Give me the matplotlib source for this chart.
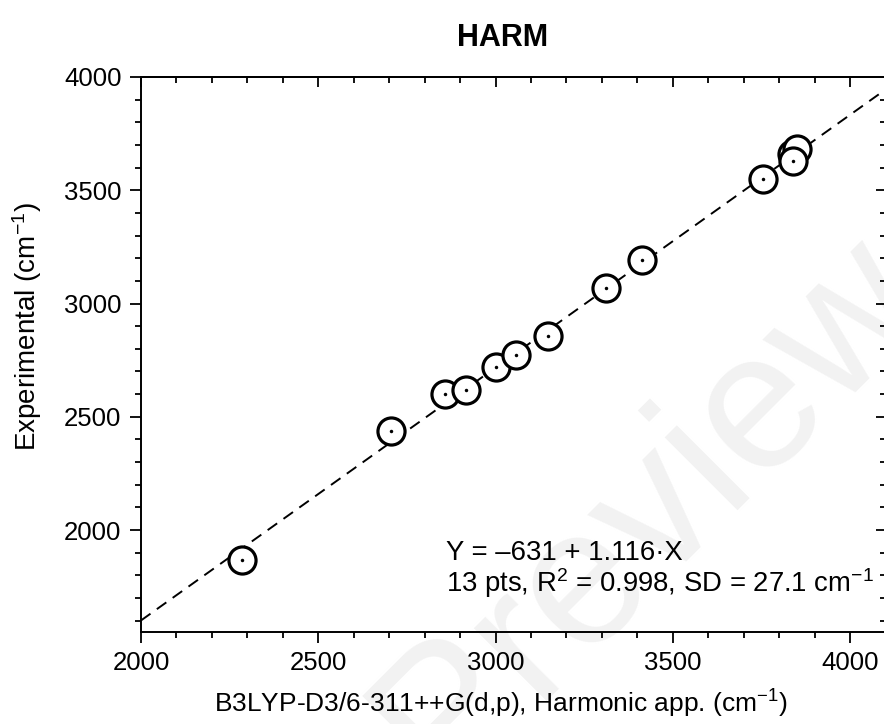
import numpy as np
import matplotlib
matplotlib.use('Agg')
import matplotlib.pyplot as plt
from matplotlib.ticker import MultipleLocator

plt.rcParams['font.family'] = ['Liberation Sans', 'DejaVu Sans']
plt.rcParams['mathtext.fontset'] = 'custom'
plt.rcParams['mathtext.rm'] = 'Liberation Sans'
plt.rcParams['mathtext.it'] = 'Liberation Sans:italic'
plt.rcParams['mathtext.bf'] = 'Liberation Sans:bold'

# data
# -------------------------
calc = [2285, 2705, 2858, 2916, 3000, 3059, 3147, 3312, 3413, 3755, 3835, 3849, 3838]
expt = [1868, 2437, 2601, 2620, 2720, 2772, 2857, 3069, 3192, 3550, 3660, 3682, 3631]
intercept = -631
slope = 1.116
fitText1 = 'Y = \u2013631 + 1.116\u00b7X'
fitText2 = '13 pts, R$^2$ = 0.998, SD = 27.1 cm$^{\u22121}$'
titleText = 'HARM'
xLabel = 'B3LYP-D3/6-311++G(d,p), Harmonic app. (cm$^{\u22121}$)'
yLabel = 'Experimental (cm$^{\u22121}$)'
xlim = (2000, 4100)
ylim = (1550, 4000)

W, H = 884, 724
fig = plt.figure(figsize=(W/100, H/100), dpi=100)
ax = fig.add_axes([141/W, 92/H, 744.5/W, 555/H])
ax.set_facecolor('none')

# faint watermark
ax.text(650/W, 1-510/H, 'Preview', transform=fig.transFigure, rotation=45,
        fontsize=140, color='#f2f2f2', ha='center', va='center',
        zorder=0, clip_on=False)

# fit line
xl = np.array(xlim, dtype=float)
ax.plot(xl, intercept + slope*xl, color='black', lw=1.4, dashes=(6, 4), zorder=2)

# points: circle + centre dot, drawn one after another
for i in range(len(calc)):
    ax.plot(calc[i], expt[i], marker='o', ms=19.5, mfc='white', mec='black',
            mew=2.3, ls='none', zorder=3+2*i)
    ax.plot(calc[i], expt[i], marker='o', ms=2.5, mfc='black', mec='black',
            mew=0, ls='none', zorder=4+2*i)

ax.set_xlim(xlim)
ax.set_ylim(ylim)
ax.xaxis.set_major_locator(MultipleLocator(500))
ax.xaxis.set_minor_locator(MultipleLocator(100))
ax.yaxis.set_major_locator(MultipleLocator(500))
ax.yaxis.set_minor_locator(MultipleLocator(100))
ax.tick_params(which='both', direction='out', width=1.3, labelsize=18.5, pad=6)
ax.tick_params(which='major', length=8)
ax.tick_params(which='minor', length=4.3)
for s in ax.spines.values():
    s.set_linewidth(1.4)

# top / right: inward ticks, no labels
top = ax.secondary_xaxis('top')
top.xaxis.set_major_locator(MultipleLocator(500))
top.xaxis.set_minor_locator(MultipleLocator(100))
top.tick_params(which='both', direction='in', width=1.3, labeltop=False)
top.tick_params(which='major', length=7.5)
top.tick_params(which='minor', length=4)
right = ax.secondary_yaxis('right')
right.yaxis.set_major_locator(MultipleLocator(500))
right.yaxis.set_minor_locator(MultipleLocator(100))
right.tick_params(which='both', direction='in', width=1.3, labelright=False)
right.tick_params(which='major', length=7.5)
right.tick_params(which='minor', length=4)
for sec in (top, right):
    for s in sec.spines.values():
        s.set_linewidth(1.4)

ax.set_xlabel(xLabel, fontsize=19)
ax.set_ylabel(yLabel, fontsize=20)
ax.xaxis.set_label_coords((501-141)/744.5, -(688-632)/555)
ax.yaxis.set_label_coords(-(141-44)/744.5, (632-327)/555)

ax.text((446-141)/744.5, (632-560)/555, fitText1, transform=ax.transAxes,
        fontsize=19.8, ha='left', va='baseline', zorder=40)
ax.text((446-141)/744.5, (632-592)/555, fitText2, transform=ax.transAxes,
        fontsize=19.8, ha='left', va='baseline', zorder=40)

fig.text(503/W, 1-38/H, titleText, ha='center', va='center',
         fontsize=22, fontweight='bold')

fig.savefig('out.png', dpi=100)
